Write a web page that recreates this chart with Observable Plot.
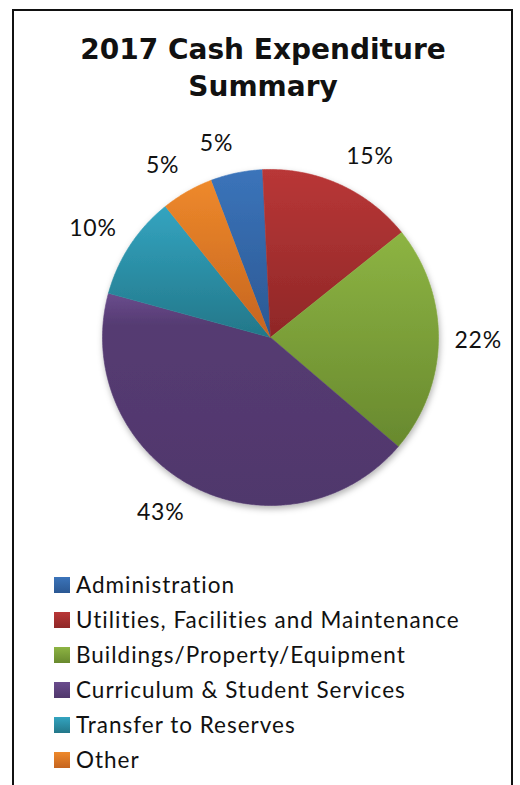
<!DOCTYPE html>
<html>
<head>
<meta charset="utf-8">
<script src="https://cdn.jsdelivr.net/npm/d3@7"></script>
<script src="https://cdn.jsdelivr.net/npm/@observablehq/plot@0.6"></script>
<style>
  html, body { margin: 0; padding: 0; background: #fff; }
  body { width: 520px; height: 785px; position: relative; overflow: hidden; }
  #frame { position: absolute; left: 12px; top: 9px; width: 497px; height: 820px;
           border: 2px solid #111; box-sizing: content-box; }
  #title { position: absolute; left: 3px; width: 520px; top: 32px; text-align: center;
           font-family: "DejaVu Sans", sans-serif; font-weight: bold; font-size: 28px;
           line-height: 36.7px; color: #111; z-index: 2; }
  #chart { position: absolute; left: 0; top: 0; z-index: 1; }
  #chart text { letter-spacing: 0.8px; }
  #legend { position: absolute; left: 54px; top: 567px; font-family: Lato, sans-serif;
            font-size: 22.5px; letter-spacing: 1px; color: #111; z-index: 2; }
  .row { height: 35px; display: flex; align-items: center; white-space: nowrap; }
  .sw { width: 16px; height: 16px; margin-right: 6px; flex: none; }
</style>
</head>
<body>
<div id="frame"></div>
<div id="title">2017 Cash Expenditure<br>Summary</div>
<div id="chart"></div>
<div id="legend"></div>
<script>
// ---- data ----
const categories = [
  "Administration",
  "Utilities, Facilities and Maintenance",
  "Buildings/Property/Equipment",
  "Curriculum & Student Services",
  "Transfer to Reserves",
  "Other"
];
const values = [5, 15, 22, 43, 10, 5];
const labels = ["5%", "15%", "22%", "43%", "10%", "5%"];

// ---- styles ----
const gradientStops = [
  [[0, "#3b74ba"], [1, "#2b5893"]],
  [[0, "#b93737"], [1, "#8f2727"]],
  [[0, "#8db443"], [1, "#68892e"]],
  [[0, "#6a4c8d"], [0.15, "#553b72"], [1, "#50376c"]],
  [[0, "#33a4c0"], [1, "#237789"]],
  [[0, "#ee892b"], [1, "#c5641f"]]
];
const firstSliceAngle = 339.3; // degrees, clockwise from 12 o'clock

const R = 168, cx = 270, cy = 337, W = 520, H = 545;

// ---- build slice outlines in unit-circle space ----
const total = d3.sum(values);
let acc = firstSliceAngle;
const slicePts = [];
const labelPts = [];
values.forEach((v, i) => {
  const a0 = acc, a1 = acc + v / total * 360;
  acc = a1;
  slicePts.push({cat: categories[i], x: 0, y: 0});
  const n = Math.max(4, Math.ceil((a1 - a0) / 0.5));
  for (let k = 0; k <= n; k++) {
    const a = (a0 + (a1 - a0) * k / n) * Math.PI / 180;
    slicePts.push({cat: categories[i], x: Math.sin(a), y: Math.cos(a)});
  }
  const am = (a0 + a1) / 2 * Math.PI / 180;
  const s = Math.sin(am), c = Math.cos(am);
  labelPts.push({
    label: labels[i],
    side: s >= 0 ? "right" : "left",
    x: s * (1 + 16 / R),
    y: c * (1 + 30 / R)
  });
});

const textOpts = {x: "x", y: "y", text: "label", fontSize: 23,
  fontFamily: "Lato, sans-serif", fill: "#111"};

const plot = Plot.plot({
  width: W, height: H,
  margin: 0,
  x: {domain: [-cx / R, (W - cx) / R], range: [0, W], axis: null},
  y: {domain: [-(H - cy) / R, cy / R], range: [H, 0], axis: null},
  color: {domain: categories, range: categories.map((_, i) => `url(#grad${i})`)},
  style: {background: "transparent", overflow: "visible"},
  marks: [
    Plot.line(slicePts, {x: "x", y: "y", z: "cat", fill: "cat", stroke: "cat", strokeWidth: 0.6}),
    Plot.text(labelPts.filter(d => d.side === "right"), {...textOpts, textAnchor: "start"}),
    Plot.text(labelPts.filter(d => d.side === "left"), {...textOpts, textAnchor: "end"})
  ]
});
document.getElementById("chart").appendChild(plot);

// gradients + shadow
const svgNS = "http://www.w3.org/2000/svg";
const svg = plot.tagName.toLowerCase() === "svg" ? plot : plot.querySelector("svg");
const defs = document.createElementNS(svgNS, "defs");
categories.forEach((c, i) => {
  const g = document.createElementNS(svgNS, "linearGradient");
  g.setAttribute("id", `grad${i}`);
  g.setAttribute("x1", "0"); g.setAttribute("y1", "0");
  g.setAttribute("x2", "0"); g.setAttribute("y2", "1");
  gradientStops[i].forEach(([o, col]) => {
    const s = document.createElementNS(svgNS, "stop");
    s.setAttribute("offset", o); s.setAttribute("stop-color", col);
    g.appendChild(s);
  });
  defs.appendChild(g);
});
const f = document.createElementNS(svgNS, "filter");
f.setAttribute("id", "shadow");
f.setAttribute("x", "-20%"); f.setAttribute("y", "-20%");
f.setAttribute("width", "140%"); f.setAttribute("height", "140%");
const ds = document.createElementNS(svgNS, "feDropShadow");
ds.setAttribute("dx", "1"); ds.setAttribute("dy", "3");
ds.setAttribute("stdDeviation", "3"); ds.setAttribute("flood-opacity", "0.3");
f.appendChild(ds);
defs.appendChild(f);
svg.insertBefore(defs, svg.firstChild);
const lineG = svg.querySelector('g[aria-label="line"]');
if (lineG) lineG.setAttribute("filter", "url(#shadow)");

// legend
const legend = document.getElementById("legend");
categories.forEach((c, i) => {
  const row = document.createElement("div");
  row.className = "row";
  const sw = document.createElement("span");
  sw.className = "sw";
  const st = gradientStops[i];
  sw.style.background = `linear-gradient(${st[0][1]}, ${st[st.length - 1][1]})`;
  const t = document.createElement("span");
  t.textContent = c;
  row.appendChild(sw); row.appendChild(t);
  legend.appendChild(row);
});
</script>
</body>
</html>
